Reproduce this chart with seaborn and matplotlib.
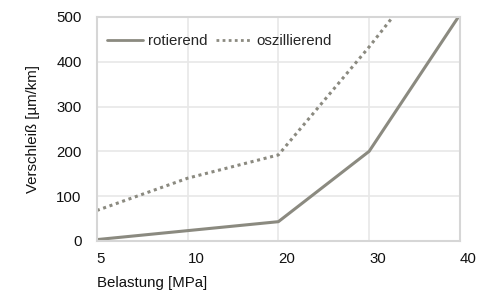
import pandas as pd
import seaborn as sns
import matplotlib.pyplot as plt

# values
belastung = ["5", "10", "20", "30", "40"]
rotierend = [3, 23, 43, 200, 505]
oszillierend = [68, 140, 192, 433, 690]

df = pd.DataFrame({
    "Belastung": belastung * 2,
    "Verschleiss": rotierend + oszillierend,
    "Art": ["rotierend"] * len(belastung) + ["oszillierend"] * len(belastung),
})

sns.set_theme(style="whitegrid")
plt.rcParams["font.family"] = ["Liberation Sans", "DejaVu Sans"]

fs = 10.8
line_col = "#8b8a80"
fig = plt.figure(figsize=(4.94, 2.91), dpi=100)
ax = fig.add_axes([0.196, 0.172, 0.735, 0.770])

sns.lineplot(data=df, x="Belastung", y="Verschleiss", hue="Art", style="Art",
             palette=[line_col, line_col], dashes={"rotierend": "", "oszillierend": (1, 1.2)},
             linewidth=2.2, ax=ax)
for ln in ax.lines:
    ln.set_dash_capstyle("butt")

ax.set_xlim(0, len(belastung) - 1)
ax.set_ylim(0, 500)
ax.set_yticks([0, 100, 200, 300, 400, 500])
ax.grid(True, color="#e8e8e8", linewidth=1.2)
for sp in ax.spines.values():
    sp.set_color("#d6d6d6")
    sp.set_linewidth(1.5)

ax.tick_params(axis="both", labelsize=fs, colors="#111111", length=0)
ax.tick_params(axis="y", pad=11)
ax.tick_params(axis="x", pad=8)
for lab in ax.get_xticklabels():
    lab.set_horizontalalignment("left")

ax.set_xlabel("Belastung [MPa]", fontsize=fs, color="#111111", loc="left", labelpad=7)
ax.set_ylabel("Verschleiß [µm/km]", fontsize=fs, color="#111111", labelpad=12)

leg = ax.legend(loc="upper left", ncol=2, frameon=False, fontsize=fs,
                handlelength=2.4, handletextpad=0.3, columnspacing=0.6,
                bbox_to_anchor=(0.0, 0.97), borderaxespad=0.3)
for h in leg.get_lines():
    h.set_linewidth(2)

fig.savefig("out.png", dpi=100)
